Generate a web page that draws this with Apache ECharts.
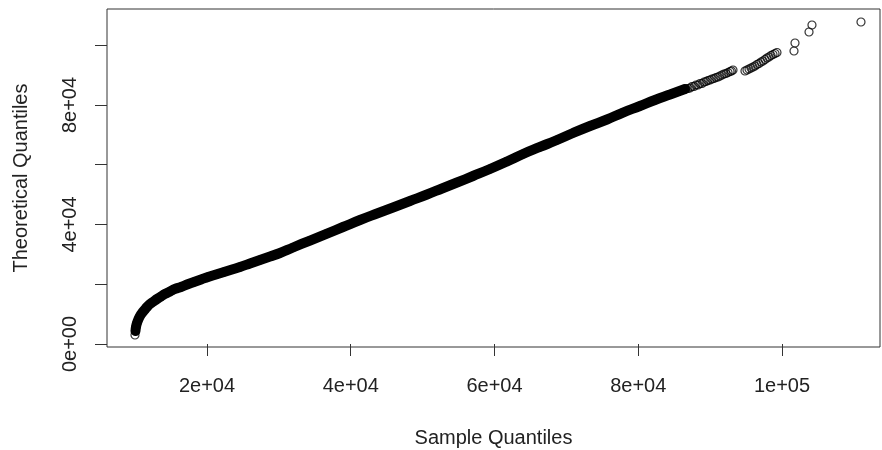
<!DOCTYPE html>
<html>
<head>
<meta charset="utf-8">
<script src="https://cdn.jsdelivr.net/npm/echarts@6/dist/echarts.min.js"></script>
<style>
html,body{margin:0;padding:0;background:#fff;}
#chart{width:882px;height:450px;}
</style>
</head>
<body>
<div id="chart"></div>
<script>
// Dense body of the Q-Q curve (sample quantile, theoretical quantile), read along the band
var bandX = [10050,10120,10260,10470,10680,10960,11300,11650,12070,12560,13040,13600,14160,14850,15550,16380,17220,18190,19170,20140,21250,22370,23480,24590,25980,27370,28770,30160,31970,34330,36700,38920,41290,43650,45880,48240,50610,52700,54780,57010,59370,61740,63970,66330,68700,70920,73290,75650,77880,80240,82330,84420,86500];
var bandY = [4350,5690,7030,8370,9370,10380,11380,12380,13390,14230,15060,15900,16740,17570,18410,19080,19920,20750,21590,22430,23260,24100,24940,25770,26940,28120,29290,30460,32300,34640,36980,39160,41500,43680,45690,47860,50040,52050,54050,56230,58570,61080,63590,65940,68280,70620,72970,75140,77480,79660,81670,83510,85350];
// Lowest point and the upper tail, read one by one
var tailX = [9980,86640,86920,87200,87480,87760,88030,88310,88590,88870,89150,89430,89700,89980,90260,90540,90820,91100,91370,91650,91930,92210,92490,92770,92970,93180,94850,95130,95410,95690,95970,96240,96520,96800,97080,97360,97640,97910,98190,98470,98750,99030,99300,101670,101810,103760,104170,110990];
var tailY = [3010,85350,85520,85680,86190,86190,86690,86690,87190,87190,87690,87860,88190,88360,88700,88860,89200,89370,89700,90030,90370,90540,90870,91210,91370,91710,91370,91710,92040,92380,92710,93050,93550,93880,94390,94720,95220,95720,96060,96560,96900,97230,97570,98070,100750,104430,106770,107770];
// Axis ticks and labels
var xTickValues = [20000,40000,60000,80000,100000];
var xTickLabels = ["2e+04","4e+04","6e+04","8e+04","1e+05"];
var yTickValues = [0,20000,40000,60000,80000,100000];
var yLabelValues = [0,40000,80000];
var yTickLabels = ["0e+00","4e+04","8e+04"];

var i;
var allPts = [];
for (i = 0; i < bandX.length; i++) allPts.push([bandX[i], bandY[i]]);
for (i = 0; i < tailX.length; i++) allPts.push([tailX[i], tailY[i]]);
var bandPts = [];
for (i = 0; i < bandX.length; i++) bandPts.push([bandX[i], bandY[i]]);

function labelFor(vals, labels) {
  return function (v) {
    for (var k = 0; k < vals.length; k++) if (Math.abs(vals[k] - v) < 1) return labels[k];
    return '';
  };
}

var font = "'Liberation Sans', Arial, sans-serif";
var chart = echarts.init(document.getElementById('chart'), null, {renderer: 'canvas'});
chart.setOption({
  animation: false,
  backgroundColor: '#fff',
  grid: {left: 107, top: 9, right: 2, bottom: 103, show: true, borderColor: '#333', borderWidth: 1, containLabel: false, outerBoundsMode: 'none'},
  xAxis: {
    type: 'value', min: 6087, max: 113635,
    name: 'Sample Quantiles', nameLocation: 'middle', nameGap: 81,
    nameTextStyle: {fontFamily: font, fontSize: 20, color: '#222'},
    axisLine: {show: false},
    splitLine: {show: false},
    axisTick: {show: true, inside: false, length: 12, lineStyle: {color: '#333', width: 1}, customValues: xTickValues},
    axisLabel: {margin: 29, fontFamily: font, fontSize: 20, color: '#222', customValues: xTickValues, formatter: labelFor(xTickValues, xTickLabels)}
  },
  yAxis: {
    type: 'value', min: -1004, max: 112125,
    name: 'Theoretical Quantiles', nameLocation: 'middle', nameGap: 76,
    nameTextStyle: {fontFamily: font, fontSize: 20, color: '#222'},
    axisLine: {show: false},
    splitLine: {show: false},
    axisTick: {show: true, inside: false, length: 12, lineStyle: {color: '#333', width: 1}, customValues: yTickValues},
    axisLabel: {margin: 27, rotate: 90, fontFamily: font, fontSize: 20, color: '#222', customValues: yLabelValues, formatter: labelFor(yLabelValues, yTickLabels)}
  },
  series: [
    {
      type: 'line', data: bandPts, showSymbol: false, smooth: true, silent: true,
      lineStyle: {color: '#000', width: 10, cap: 'round', join: 'round'}
    },
    {
      type: 'scatter', data: allPts, symbol: 'circle', symbolSize: 8, silent: true,
      itemStyle: {color: 'rgba(0,0,0,0)', borderColor: '#000', borderWidth: 1.2}
    }
  ]
});
</script>
</body>
</html>
